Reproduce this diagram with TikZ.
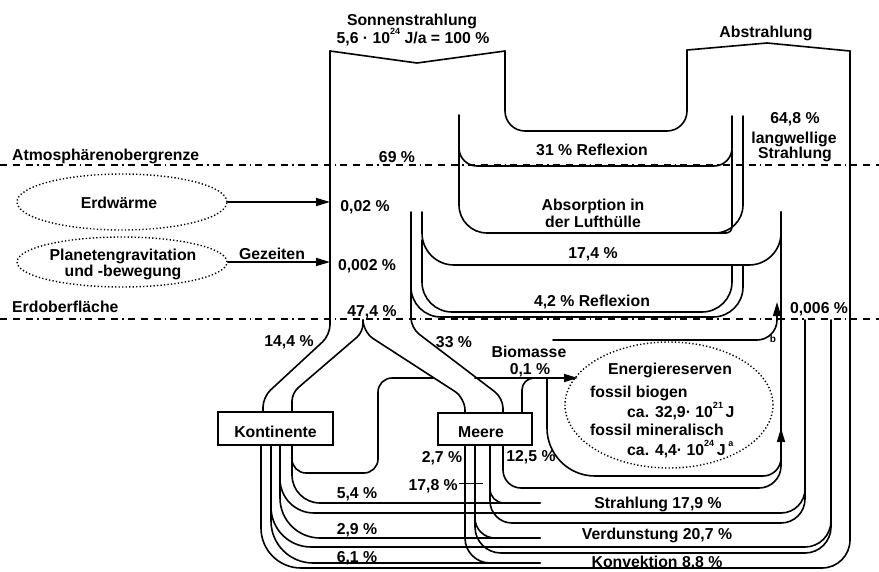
\documentclass[tikz,border=0pt]{standalone}
\usepackage{fontspec}
\setmainfont{Liberation Sans}
\usetikzlibrary{arrows.meta,shapes.geometric}
\newcommand{\hoch}[1]{\raisebox{0.55em}{\fontsize{9}{9}\selectfont #1}}
\begin{document}
\begin{tikzpicture}[x=1pt,y=-1pt,
  flow/.style={line width=1.6pt, line cap=round, line join=round},
  thinline/.style={line width=0.7pt},
  lbl/.style={font=\bfseries\fontsize{15.8}{17}\selectfont, inner sep=0pt, anchor=base},
  lblw/.style={lbl, anchor=base west},
  lble/.style={lbl, anchor=base east},
  border/.style={line width=1.3pt, dash pattern=on 7pt off 6pt on 7pt off 6pt on 7pt off 4pt on 1.5pt off 4pt},
  cloud/.style={ellipse, draw, line width=1.4pt, dash pattern=on 1.3pt off 2.2pt, inner sep=0pt},
  tip/.style={-{Triangle[length=14pt,width=8pt]}},
  box/.style={draw, line width=1.4pt, fill=white, inner sep=0pt}]
\useasboundingbox (0,0) rectangle (879,571);

% level lines
\draw[border] (0,165) -- (879,165);
\draw[border] (0,319) -- (879,319);

% incoming solar radiation, left edge down to the continents
\draw[flow, rounded corners=10pt] (263,412) -- (263,397) -- (330,335) -- (330,51);
\draw[flow] (330,51) -- (417,63) -- (505,51);
% 31 % reflection, outer edge
\draw[flow, rounded corners=20pt] (505,51) -- (505,131) -- (687,131) -- (687,50);
% outgoing radiation
\draw[flow] (687,50) -- (767,43) -- (850,51);
\draw[flow, rounded corners=28pt] (850,51) -- (850,568) -- (560,568);
\draw[flow, rounded corners=40pt] (560,568) -- (261,568) -- (261,445);

% 31 % reflection, inner edge
\draw[flow, rounded corners=18pt] (459,115) -- (459,166) -- (732,166) -- (732,116);
% absorption in the atmosphere
\draw[flow, rounded corners=28pt] (459,140) -- (459,233) -- (743,233) -- (743,116);
\draw[flow, rounded corners=6pt] (732,150) -- (732,233) -- (712,233);
% 17,4 %
\draw[flow, rounded corners=32pt] (422,212) -- (422,265) -- (781,265) -- (781,212);
% 4,2 % reflection
\draw[flow, rounded corners=30pt] (422,240) -- (422,312) -- (732,312) -- (732,265);
\draw[flow, rounded corners=30pt] (411,280) -- (411,317) -- (743,317) -- (743,265);

% 33 % to the oceans
\draw[flow, rounded corners=10pt] (411,212) -- (411,328) -- (503,398) -- (503,413);
% 47,4 % split
\draw[flow, rounded corners=8pt] (363,320) -- (363,332) -- (292,393) -- (292,412);
\draw[flow, rounded corners=12pt] (363,326) -- (363,332) -- (465,398) -- (465,413);

% boxes
\node[box, minimum width=115pt, minimum height=33pt] (kont) at (275.5,428.5) {};
\node[box, minimum width=94pt, minimum height=32pt] (meer) at (485,429) {};

% biomass
\draw[flow, rounded corners=14pt] (292,445) -- (292,473) -- (378,473) -- (378,378) -- (433,378);
\draw[flow, tip] (475,378) -- (578,378);
\draw[flow, rounded corners=12pt] (522,413) -- (522,378) -- (545,378);

% energy reserves
\node[cloud, minimum width=208pt, minimum height=126pt] (res) at (669,405) {};
\draw[flow, rounded corners=48pt] (547,378) -- (547,476) -- (660,476);
\draw[flow, rounded corners=18pt, tip] (660,476) -- (781,476) -- (781,428);
% 0,006 %
\draw[flow, rounded corners=20pt, tip] (553,340) -- (777,340) -- (777,302);

% radiation 17,9 %
\draw[flow, rounded corners=18pt] (503,445) -- (503,488) -- (700,488);
\draw[flow, rounded corners=22pt] (700,488) -- (781,488) -- (781,212);
\draw[flow, rounded corners=28pt] (292,460) -- (292,503) -- (540,503);
\draw[flow, rounded corners=14pt] (490,445) -- (490,503) -- (540,503);
\draw[flow, rounded corners=34pt] (280,445) -- (280,513) -- (600,513);
\draw[flow, rounded corners=24pt] (600,513) -- (805,513) -- (805,320);
% evaporation 20,7 %
\draw[flow, rounded corners=22pt] (490,470) -- (490,523) -- (600,523);
\draw[flow, rounded corners=24pt] (600,523) -- (805,523) -- (805,480);
\draw[flow, rounded corners=40pt] (280,480) -- (280,538) -- (540,538);
\draw[flow, rounded corners=20pt] (475,445) -- (475,538) -- (540,538);
\draw[flow, rounded corners=40pt] (271,445) -- (271,547) -- (600,547);
\draw[flow, rounded corners=26pt] (600,547) -- (831,547) -- (831,320);
% convection 8.8 %
\draw[flow, rounded corners=26pt] (475,500) -- (475,553) -- (600,553);
\draw[flow, rounded corners=26pt] (600,553) -- (831,553) -- (831,500);
\draw[flow, rounded corners=42pt] (271,490) -- (271,563) -- (540,563);
\draw[flow, rounded corners=25pt] (465,445) -- (465,563) -- (540,563);

% leader for 17,8 %
\draw[thinline] (459,483) -- (483,483);

% geothermal and tidal inputs
\node[cloud, minimum width=210pt, minimum height=56pt] (erd) at (122,202) {};
\node[cloud, minimum width=210pt, minimum height=50pt] (grav) at (122,262) {};
\draw[flow, tip] (erd.east) -- (330,202);
\draw[flow, tip] (grav.east) -- (330,262);

% labels
\node[lbl] at (412,25) {Sonnenstrahlung};
\node[lbl] at (413,43) {5,6 · 10\hoch{24} J/a = 100 \%};
\node[lbl] at (766,37) {Abstrahlung};
\node[lblw] at (12,160) {Atmosphärenobergrenze};
\node[lbl] at (397,162) {69 \%};
\node[lbl] at (592,155) {31 \% Reflexion};
\node[lbl] at (795,123) {64,8 \%};
\node[lbl] at (794,143) {langwellige};
\node[lbl] at (795,158) {Strahlung};
\node[lbl] at (119,208) {Erdwärme};
\node[lbl] at (123,260) {Planetengravitation};
\node[lbl] at (123,276) {und -bewegung};
\node[lbl] at (272,259) {Gezeiten};
\node[lbl] at (365,211) {0,02 \%};
\node[lbl] at (367,270) {0,002 \%};
\node[lblw] at (12,312) {Erdoberfläche};
\node[lbl] at (372,316) {47,4 \%};
\node[lbl] at (593,210) {Absorption in};
\node[lbl] at (593,227) {der Lufthülle};
\node[lbl] at (593,258) {17,4 \%};
\node[lbl] at (592,306) {4,2 \% Reflexion};
\node[lbl] at (819,313) {0,006 \%};
\node[lbl, font=\bfseries\fontsize{10}{10}\selectfont] at (773,342) {b};
\node[lbl] at (289,346) {14,4 \%};
\node[lbl] at (454,347) {33 \%};
\node[lbl] at (529,357) {Biomasse};
\node[lbl] at (530,374) {0,1 \%};
\node[lbl] at (670,374) {Energiereserven};
\node[lblw] at (590,397) {fossil biogen};
\node[lblw] at (627,417) {ca. 32,9· 10\hoch{21}\,J};
\node[lblw] at (590,435) {fossil mineralisch};
\node[lblw] at (627,455) {ca. 4,4· 10\hoch{24}\,J\,\hoch{a}};
\node[lbl] at (kont.center |- 0,437) {Kontinente};
\node[lbl] at (481,437) {Meere};
\node[lbl] at (442,462) {2,7 \%};
\node[lble] at (458,490) {17,8 \%};
\node[lbl] at (531,461) {12,5 \%};
\node[lbl] at (357,498) {5,4 \%};
\node[lbl] at (357,534) {2,9 \%};
\node[lbl] at (357,562) {6,1 \%};
\node[lbl] at (658,508) {Strahlung 17,9 \%};
\node[lbl] at (657,539) {Verdunstung 20,7 \%};
\node[lbl] at (657,567) {Konvektion 8.8 \%};
\end{tikzpicture}
\end{document}
